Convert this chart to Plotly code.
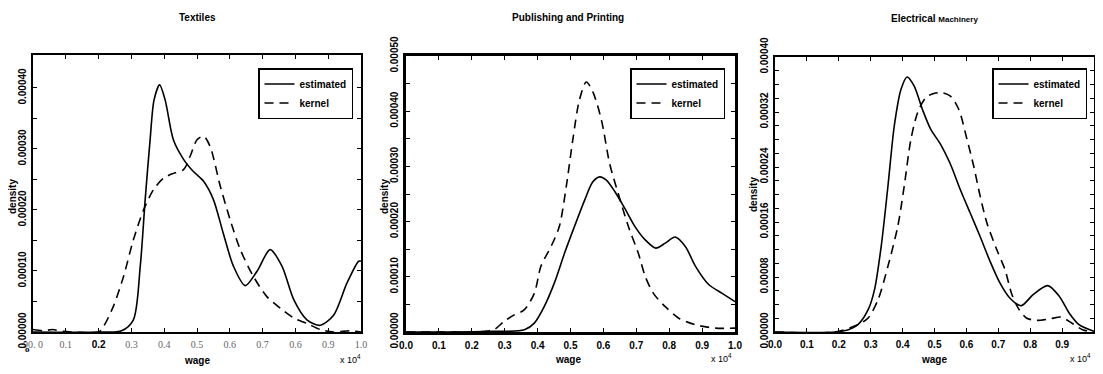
import plotly.graph_objects as go

# ---------------- data (wage in units of 10^4, density) ----------------
tex_est_x = [0.0, 0.20, 0.27, 0.306, 0.327, 0.342, 0.357, 0.369, 0.386, 0.403, 0.428, 0.459, 0.489,
             0.52, 0.55, 0.58, 0.611, 0.647, 0.683, 0.723, 0.759, 0.795, 0.835, 0.876, 0.917,
             0.957, 0.993, 1.0]
tex_est_y = [0.0, 0.0, 0.000002, 0.00002, 0.000108, 0.000217, 0.000315, 0.00038, 0.000405, 0.00038,
             0.000315, 0.000283, 0.000263, 0.000247, 0.000217, 0.000162, 0.000108, 0.000076,
             0.0000995, 0.000135, 0.000108, 0.000053, 0.00002, 0.000011, 0.000028, 0.00008,
             0.000116, 0.000116]
tex_ker_x = [0.0, 0.03, 0.06, 0.09, 0.12, 0.2, 0.215, 0.245, 0.276, 0.306, 0.337, 0.367, 0.398,
             0.428, 0.459, 0.479, 0.5, 0.52, 0.54, 0.571, 0.601, 0.632, 0.672, 0.713, 0.754,
             0.795, 0.835, 0.876, 0.917, 0.967, 1.0]
tex_ker_y = [0.000004, 0.000002, 0.000004, 0.000001, 0.0, 0.0, 0.000009, 0.000042, 0.000091,
             0.000151, 0.0002, 0.000233, 0.000252, 0.00026, 0.000266, 0.000288, 0.000315,
             0.000321, 0.000304, 0.000239, 0.000184, 0.000135, 0.000091, 0.000058, 0.000039,
             0.000023, 0.000014, 0.000004, 0.0, 0.000002, 0.0]

pub_est_x = [0.0, 0.237, 0.36, 0.39, 0.42, 0.451, 0.482, 0.512, 0.543, 0.568, 0.589, 0.609, 0.635,
             0.665, 0.696, 0.727, 0.759, 0.788, 0.818, 0.849, 0.88, 0.92, 0.961, 1.0]
pub_est_y = [0.0, 0.000001, 0.000004, 0.000016, 0.000046, 0.000089, 0.000143, 0.000191, 0.000239,
             0.000272, 0.000281, 0.000275, 0.000254, 0.000224, 0.000191, 0.000167, 0.000152,
             0.000161, 0.000172, 0.000155, 0.000119, 0.000086, 0.00007, 0.000055]
pub_ker_x = [0.0, 0.237, 0.267, 0.298, 0.329, 0.359, 0.39, 0.41, 0.441, 0.466, 0.487, 0.507, 0.527,
             0.548, 0.568, 0.594, 0.619, 0.645, 0.676, 0.706, 0.727, 0.752, 0.788, 0.829, 0.88,
             0.941, 1.0]
pub_ker_y = [0.0, 0.000001, 0.000004, 0.000019, 0.000031, 0.00004, 0.00007, 0.000119, 0.000155,
             0.000191, 0.000263, 0.000348, 0.00042, 0.000453, 0.000435, 0.000384, 0.000305,
             0.000251, 0.000191, 0.000143, 0.000101, 0.00007, 0.000046, 0.000025, 0.000013,
             0.000007, 0.000007]

ele_est_x = [0.0, 0.188, 0.23, 0.26, 0.292, 0.312, 0.333, 0.354, 0.374, 0.395, 0.414, 0.436, 0.462,
             0.488, 0.519, 0.55, 0.581, 0.612, 0.643, 0.674, 0.705, 0.736, 0.772, 0.809, 0.855,
             0.891, 0.922, 0.953, 1.0]
ele_est_y = [0.0, 0.0, 0.0000034, 0.0000107, 0.0000325, 0.0000617, 0.000125, 0.000212, 0.0003,
             0.000353, 0.000371, 0.000358, 0.000324, 0.000295, 0.000273, 0.000244, 0.000207,
             0.000173, 0.000139, 0.000103, 0.0000714, 0.0000495, 0.0000383, 0.0000544,
             0.0000675, 0.000052, 0.0000277, 0.0000107, 0.000001]
ele_ker_x = [0.0, 0.188, 0.26, 0.292, 0.323, 0.354, 0.385, 0.405, 0.426, 0.447, 0.473, 0.498, 0.524,
             0.55, 0.576, 0.602, 0.623, 0.643, 0.664, 0.695, 0.721, 0.741, 0.762, 0.788, 0.819,
             0.86, 0.897, 0.922, 0.964, 1.0]
ele_ker_y = [0.0, 0.0, 0.0000107, 0.0000204, 0.000047, 0.0000956, 0.000154, 0.000212, 0.00028,
             0.000319, 0.000341, 0.000347, 0.000348, 0.000343, 0.000324, 0.00028, 0.000241,
             0.000198, 0.000159, 0.00012, 0.0000908, 0.0000568, 0.000035, 0.0000204, 0.000017,
             0.0000189, 0.0000218, 0.0000155, 0.0000034, 0.0]

titles = ["<b>Textiles</b>", "<b>Publishing and Printing</b>",
          "<b>Electrical</b> <span style='font-size:8px'><b>Machinery</b></span>"]
series_names = ["estimated", "kernel"]

x_tickvals = [0.0, 0.1, 0.2, 0.3, 0.4, 0.5, 0.6, 0.7, 0.8, 0.9, 1.0]
x_ticktext_tex = ["90. 0", "0.1", "<b><span style='color:black;font-family:Liberation Sans'>0.2</span></b>",
                  "0.3", "0.4", "0.5", "0.6", "0.7", "0.6", "0.9", "1.0"]
x_ticktext = ["0.0", "0.1", "0.2", "0.3", "0.4", "0.5", "0.6", "0.7", "0.8", "0.9", "1.0"]

y1_tickvals = [0.0, 0.0001, 0.0002, 0.0003, 0.0004]
y1_ticktext = ["0.00000", "0.00010", "0.00020", "0.00030", "0.00040"]
y1_minor = [0.00005, 0.00015, 0.00025, 0.00035]
y2_tickvals = [0.0, 0.0001, 0.0002, 0.0003, 0.0004, 0.0005]
y2_ticktext = ["0.00000", "0.00010", "0.00020", "0.00030", "0.00040", "0.00050"]
y2_minor = [0.00005, 0.00015, 0.00025, 0.00035, 0.00045]
y3_tickvals = [0.0, 0.00008, 0.00016, 0.00024, 0.00032, 0.0004]
y3_ticktext = ["0.00000", "0.00008", "0.00016", "0.00024", "0.00032", "0.00040"]
y3_minor = [0.00002, 0.00004, 0.00006, 0.0001, 0.00012, 0.00014, 0.00018, 0.0002, 0.00022,
            0.00026, 0.00028, 0.0003, 0.00034, 0.00036, 0.00038]
y_ranges = [[0, 0.000454], [0, 0.0005], [0, 0.0004]]

# ---------------- layout geometry ----------------
# the page body has an 8px margin on every side, so the figure is placed at (8, 8)
# and kept inside the body so the page does not scroll or clip
OFF = 8
W, H = 1103 - 2 * OFF, 374 - 2 * OFF
boxes = [(33, 361, 55, 332), (406, 735, 56, 332), (775, 1094, 57, 332)]  # x0, x1, ytop, ybot

def px(x):
    return (x - OFF) / W

def py(y):
    return 1 - (y - OFF) / H

fig = go.Figure()

data = [(tex_est_x, tex_est_y, tex_ker_x, tex_ker_y),
        (pub_est_x, pub_est_y, pub_ker_x, pub_ker_y),
        (ele_est_x, ele_est_y, ele_ker_x, ele_ker_y)]

legend_ids = ["legend", "legend2", "legend3"]
for i, (ex, ey, kx, ky) in enumerate(data):
    xa = "x" if i == 0 else f"x{i+1}"
    ya = "y" if i == 0 else f"y{i+1}"
    fig.add_trace(go.Scatter(x=ex, y=ey, mode="lines", name=series_names[0], xaxis=xa, yaxis=ya,
                             line=dict(color="black", width=1.6, shape="spline", smoothing=0.8),
                             legend=legend_ids[i]))
    fig.add_trace(go.Scatter(x=kx, y=ky, mode="lines", name=series_names[1], xaxis=xa, yaxis=ya,
                             line=dict(color="black", width=1.6, dash="9px,6px", shape="spline",
                                       smoothing=0.8),
                             legend=legend_ids[i]))

tick_font = dict(family="Liberation Sans", size=10, color="black", weight="bold")
ytexts = [(y1_tickvals, y1_ticktext, y1_minor), (y2_tickvals, y2_ticktext, y2_minor),
          (y3_tickvals, y3_ticktext, y3_minor)]
layout = {}
for i, (x0, x1, yt, yb) in enumerate(boxes):
    sfx = "" if i == 0 else str(i + 1)
    lw = 3 if i == 1 else 1.5
    xt = x_ticktext_tex if i == 0 else x_ticktext
    xfont = dict(family="Liberation Serif", size=10, color="#666666") if i == 0 else tick_font
    layout["xaxis" + sfx] = dict(domain=[px(x0), px(x1)], range=[0, 1.0], anchor="y" + sfx,
                                 tickmode="array", tickvals=x_tickvals, ticktext=xt,
                                 ticks="inside", ticklen=4,
                                 tickwidth=1.2, tickcolor="black", showline=True, linecolor="black",
                                 linewidth=lw, mirror="ticks", showgrid=False, zeroline=False,
                                 tickfont=xfont, ticklabelstandoff=2, automargin=False)
    layout["yaxis" + sfx] = dict(domain=[py(yb), py(yt)], range=y_ranges[i], anchor="x" + sfx,
                                 tickmode="array", tickvals=ytexts[i][0], ticktext=ytexts[i][1],
                                 ticks="inside",
                                 ticklen=4, tickwidth=1.2, tickcolor="black", showline=True,
                                 linecolor="black", linewidth=lw, mirror="ticks", showgrid=False,
                                 zeroline=False, tickangle=-90, tickfont=tick_font,
                                 ticklabelstandoff=1, automargin=False,
                                 minor=dict(tickmode="array", tickvals=ytexts[i][2],
                                            ticks="inside", ticklen=4, tickwidth=1.2,
                                            tickcolor="black", showgrid=False))

legend_pos = [(353, 68), (725, 68), (1087, 68)]
for i, lid in enumerate(legend_ids):
    layout[lid] = dict(x=px(legend_pos[i][0]), y=py(legend_pos[i][1]), xanchor="right",
                       yanchor="top", bgcolor="white", bordercolor="black", borderwidth=1.5,
                       font=dict(family="Liberation Sans Narrow, Liberation Sans", size=10,
                                 color="black", weight="bold"),
                       itemwidth=30, tracegroupgap=0)

ann = []
title_pos = [(197, 17), (568, 17), (934, 18)]
for i, t in enumerate(titles):
    ann.append(dict(x=px(title_pos[i][0]), y=py(title_pos[i][1]), xref="paper", yref="paper",
                    text=t, showarrow=False, xanchor="center", yanchor="middle",
                    font=dict(family="Liberation Sans Narrow, Liberation Sans", size=10,
                              color="black")))
dens_pos = [(12, 197), (384, 197), (753, 195)]
wage_pos = [(197, 360), (568, 359), (934, 359)]
x10_pos = [(350, 359), (721, 358), (1080, 358)]
for i in range(3):
    ann.append(dict(x=px(dens_pos[i][0]), y=py(dens_pos[i][1]), xref="paper", yref="paper",
                    text="density", showarrow=False, textangle=-90, xanchor="center",
                    yanchor="middle",
                    font=dict(family="Liberation Sans", size=10, color="black", weight="bold")))
    ann.append(dict(x=px(wage_pos[i][0]), y=py(wage_pos[i][1]), xref="paper", yref="paper",
                    text="wage", showarrow=False, xanchor="center", yanchor="middle",
                    font=dict(family="Liberation Sans", size=10, color="black", weight="bold")))
    ann.append(dict(x=px(x10_pos[i][0]), y=py(x10_pos[i][1]), xref="paper", yref="paper",
                    text="x 10<sup>4</sup>", showarrow=False, xanchor="center", yanchor="middle",
                    font=dict(family="Liberation Sans", size=9, color="black")))
ann.append(dict(x=px(27), y=py(349), xref="paper", yref="paper", text="o", showarrow=False,
                xanchor="center", yanchor="middle",
                font=dict(family="Liberation Serif", size=9, color="black", weight="bold")))

fig.update_layout(template="none", width=W, height=H, margin=dict(l=0, r=0, t=0, b=0),
                  paper_bgcolor="white", plot_bgcolor="white", showlegend=True,
                  annotations=ann, **layout)

fig.write_html("out.html")
